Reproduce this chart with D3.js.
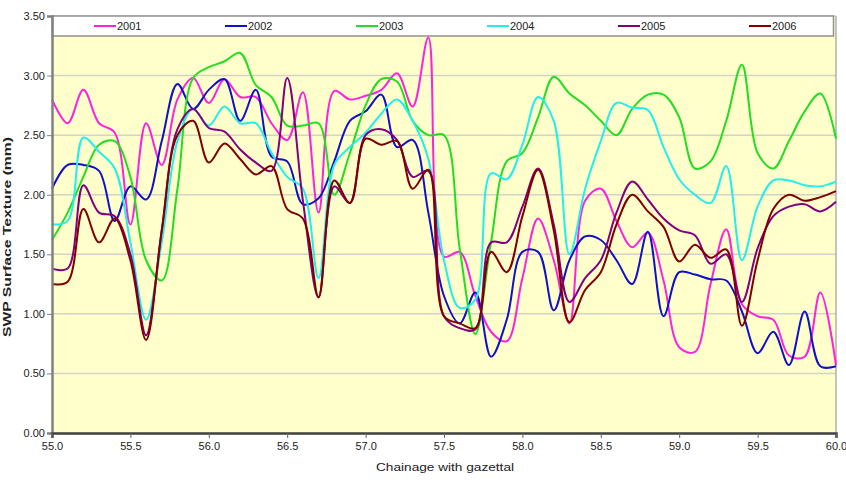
<!DOCTYPE html>
<html><head><meta charset="utf-8">
<script src="https://cdn.jsdelivr.net/npm/d3@7"></script>
<style>body{margin:0;background:#fff}svg{display:block}text{font-family:"Liberation Sans",Arial,sans-serif;fill:#222}</style>
</head><body><svg id="c" width="846" height="490"></svg>
<script>
const chainage = d3.range(0, 51).map(i => +(55 + i * 0.1).toFixed(1));
const years = ["2001","2002","2003","2004","2005","2006"];
const colors = ["#FF22DD","#1010CC","#22DD22","#22EEEE","#800080","#800000"];
const s2001 = [2.80,2.60,2.88,2.60,2.52,1.75,2.60,2.25,2.80,2.98,2.77,2.97,2.82,2.82,2.60,2.46,2.86,1.85,2.87,2.80,2.83,2.88,3.02,2.74,3.32,1.48,1.52,1.15,0.85,0.77,1.30,1.80,1.45,0.92,1.95,2.05,1.78,1.56,1.68,1.28,0.72,0.68,1.25,1.71,1.08,0.98,0.95,0.65,0.64,1.18,0.57];
const s2002 = [2.05,2.25,2.25,2.20,1.78,2.07,1.96,2.45,2.93,2.72,2.88,2.97,2.62,2.88,2.32,2.28,1.92,1.97,2.28,2.62,2.70,2.84,2.40,2.46,1.85,1.15,0.92,1.18,0.64,0.95,1.52,1.52,1.03,1.45,1.65,1.62,1.45,1.25,1.69,0.98,1.35,1.33,1.29,1.28,1.02,0.67,0.85,0.57,1.02,0.56,0.56];
const s2003 = [1.62,1.85,2.15,2.42,2.45,2.15,1.45,1.28,2.05,2.98,3.07,3.12,3.19,2.92,2.82,2.58,2.58,2.60,2.00,2.35,2.75,2.97,2.95,2.62,2.50,2.50,1.55,0.83,1.60,2.28,2.35,2.65,2.99,2.85,2.75,2.62,2.50,2.72,2.84,2.84,2.65,2.22,2.28,2.62,3.09,2.35,2.22,2.45,2.70,2.85,2.47];
const s2004 = [1.75,1.78,2.48,2.36,2.22,1.60,0.95,1.60,2.45,2.72,2.58,2.74,2.60,2.60,2.35,2.15,2.05,1.30,2.25,2.40,2.52,2.68,2.80,2.62,2.30,1.45,1.05,1.12,2.18,2.13,2.42,2.82,2.62,1.50,2.05,2.45,2.77,2.73,2.71,2.40,2.13,2.00,1.93,2.24,1.45,1.90,2.12,2.12,2.08,2.07,2.11];
const s2005 = [1.38,1.38,2.08,1.85,1.82,1.50,0.82,1.70,2.55,2.72,2.56,2.53,2.38,2.27,2.20,2.98,1.95,1.14,2.07,1.93,2.50,2.55,2.46,2.15,2.20,0.98,0.88,0.87,1.60,1.60,1.90,2.22,1.75,1.10,1.30,1.45,1.85,2.11,1.96,1.80,1.70,1.66,1.42,1.50,1.10,1.55,1.82,1.90,1.92,1.86,1.94];
const s2006 = [1.25,1.27,1.88,1.60,1.80,1.45,0.78,1.70,2.50,2.62,2.27,2.43,2.30,2.17,2.24,1.88,1.80,1.14,2.12,1.93,2.47,2.42,2.45,2.05,2.21,0.98,0.92,0.88,1.52,1.35,1.82,2.21,1.70,0.93,1.20,1.35,1.75,2.00,1.86,1.73,1.44,1.58,1.47,1.54,0.90,1.45,1.88,2.00,1.95,1.98,2.03];
const series = [s2001,s2002,s2003,s2004,s2005,s2006];
const yTicks = [0,0.5,1,1.5,2,2.5,3,3.5];
const xTicks = [55,55.5,56,56.5,57,57.5,58,58.5,59,59.5,60];

const svg = d3.select("#c");
const L=52,R=836,T=16,B=433;
const x = d3.scaleLinear().domain([55,60]).range([L,R]);
const y = d3.scaleLinear().domain([0,3.5]).range([B,T]);

svg.append("rect").attr("x",L).attr("y",T).attr("width",R-L).attr("height",B-T).attr("fill","#FFFFCC");
svg.append("g").selectAll("line").data(yTicks.filter(v=>v>0)).join("line")
  .attr("x1",L).attr("x2",R).attr("y1",d=>y(d)).attr("y2",d=>y(d))
  .attr("stroke","#D2D2C8").attr("stroke-width",1.5);
svg.append("line").attr("x1",R).attr("x2",R).attr("y1",T).attr("y2",B).attr("stroke","#B0B0A8").attr("stroke-width",1.5);

const line = d3.line().x((d,i)=>x(chainage[i])).y(d=>y(d)).curve(d3.curveCatmullRom.alpha(0.5));
svg.append("g").selectAll("path").data(series).join("path")
  .attr("d",d=>line(d)).attr("fill","none")
  .attr("stroke",(d,i)=>colors[i]).attr("stroke-width",2).attr("stroke-linejoin","round");

// legend
svg.append("rect").attr("x",L+0.5).attr("y",T).attr("width",R-L-3).attr("height",20)
  .attr("fill","#fff").attr("stroke","#909090").attr("stroke-width",1.5);
const lg = svg.append("g").selectAll("g").data(years).join("g")
  .attr("transform",(d,i)=>`translate(${94+i*131},26)`);
lg.append("line").attr("x1",0).attr("x2",22).attr("stroke",(d,i)=>colors[i]).attr("stroke-width",2);
lg.append("text").attr("x",23).attr("y",4).attr("font-size",11).attr("fill","#333").text(d=>d);

// axes
const ya = svg.append("g").attr("transform",`translate(${L},0)`)
  .call(d3.axisLeft(y).tickValues(yTicks).tickFormat(d3.format(".2f")).tickSize(5));
ya.select(".domain").attr("stroke","#808080").attr("stroke-width",2.5);
ya.selectAll(".tick line").attr("stroke","#808080");
ya.selectAll(".tick text").attr("font-size",11).attr("x",-7).attr("fill","#444").attr("font-family","Liberation Sans");
const xa = svg.append("g").attr("transform",`translate(0,${B})`)
  .call(d3.axisBottom(x).tickValues(xTicks).tickFormat(d3.format(".1f")).tickSize(5));
xa.select(".domain").attr("stroke","#404040").attr("stroke-width",2.5);
xa.selectAll(".tick line").attr("stroke","#606060");
xa.selectAll(".tick text").attr("font-size",11).attr("y",9).attr("fill","#444").attr("font-family","Liberation Sans");

svg.append("text").attr("x",445).attr("y",471).attr("text-anchor","middle").attr("font-size",11).attr("fill","#333")
  .attr("textLength",138).attr("lengthAdjust","spacingAndGlyphs").text("Chainage with gazettal");
svg.append("text").attr("transform","translate(11,237) rotate(-90)").attr("text-anchor","middle").attr("fill","#333")
  .attr("font-size",11).attr("font-weight","bold").attr("textLength",200).attr("lengthAdjust","spacingAndGlyphs")
  .text("SWP Surface Texture (mm)");
</script></body></html>
